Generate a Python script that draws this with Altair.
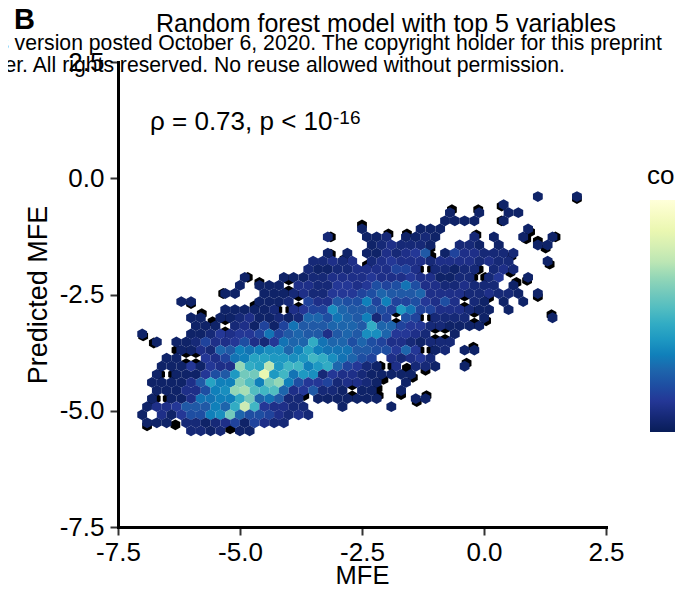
import altair as alt
import pandas as pd

# hexbin rows: row index, first column, counts per column (0 = no hexagon)
row_index = list(range(-22, 8))
row_first = [28, 24, 19, 18, 10, 6, 11, 6, 5, 4, -2, -3, -4, -9, -4, -8, -7, -13, -11, -9, -10, -11, -11, -12, -11, -12, -12, -13, -12, -8]
row_counts = [
    [1, 0, 0, 0, 1],
    [1],
    [1, 0, 0, 1, 0, 0, 1, 1],
    [1, 1, 1, 1, 0, 0, 1],
    [1, 0, 0, 0, 0, 0, 1, 1, 1, 0, 0, 0, 0, 0, 0, 0, 0, 1],
    [2, 0, 0, 0, 1, 1, 2, 0, 1, 1, 2, 1, 0, 0, 0, 2, 0, 1, 0, 0, 1, 0, 0, 1],
    [1, 2, 3, 2, 2, 2, 1, 0, 0, 2, 2, 1, 0, 1, 0, 0, 0, 1, 1],
    [1, 0, 1, 0, 1, 1, 3, 2, 3, 4, 7, 0, 1, 5, 3, 3, 2, 2, 2, 2],
    [2, 2, 3, 2, 3, 0, 2, 3, 4, 3, 3, 3, 2, 3, 3, 3, 3, 2, 3, 2, 2, 0, 0, 0, 1],
    [2, 1, 1, 2, 2, 3, 3, 3, 3, 5, 5, 3, 0, 2, 2, 1, 2, 2, 0, 2, 3, 2],
    [1, 0, 0, 0, 1, 1, 1, 2, 2, 3, 3, 3, 3, 4, 3, 3, 3, 4, 3, 3, 1, 1, 2, 2, 0, 2, 4, 0, 0, 1],
    [1, 0, 1, 1, 1, 0, 3, 3, 2, 2, 4, 4, 3, 4, 6, 5, 6, 9, 6, 3, 3, 2, 2, 3, 2, 2, 2, 0, 1],
    [1, 1, 0, 0, 1, 1, 1, 2, 3, 2, 2, 4, 4, 4, 5, 6, 8, 7, 7, 7, 8, 3, 3, 3, 3, 2, 2, 3, 2, 2, 1, 0, 1],
    [1, 1, 0, 0, 0, 0, 0, 0, 1, 1, 1, 2, 0, 5, 3, 3, 7, 6, 6, 10, 5, 10, 5, 5, 6, 4, 3, 6, 3, 0, 2, 1, 0, 1, 0, 1],
    [1, 1, 1, 1, 1, 2, 0, 3, 4, 5, 5, 11, 8, 7, 7, 7, 6, 5, 12, 9, 5, 5, 3, 3, 3, 2, 1, 1, 0, 1],
    [1, 1, 0, 1, 1, 2, 3, 1, 1, 2, 1, 2, 8, 8, 6, 9, 8, 7, 10, 2, 5, 0, 6, 5, 0, 2, 2, 2, 2, 0, 1, 0, 0, 0, 0, 0, 0, 1],
    [1, 1, 1, 0, 2, 3, 1, 5, 1, 5, 9, 7, 7, 7, 8, 8, 8, 7, 14, 8, 8, 5, 4, 4, 2, 2, 1, 1, 1, 1],
    [1, 0, 0, 0, 0, 1, 1, 2, 4, 3, 4, 4, 5, 9, 5, 7, 8, 7, 7, 3, 7, 8, 7, 11, 11, 8, 4, 4, 3, 2, 0, 0, 1],
    [1, 0, 1, 1, 2, 5, 3, 3, 4, 6, 3, 2, 4, 9, 8, 8, 14, 9, 8, 8, 6, 8, 6, 5, 3, 3, 2, 1, 2, 2, 2],
    [1, 1, 3, 2, 8, 7, 10, 9, 10, 11, 11, 8, 10, 13, 10, 9, 9, 9, 7, 7, 6, 6, 4, 8, 4, 0, 1, 2, 0, 1, 1],
    [1, 1, 0, 0, 4, 3, 5, 9, 10, 13, 13, 12, 12, 11, 12, 15, 14, 11, 9, 8, 6, 5, 0, 3, 2, 3, 4, 2],
    [1, 1, 1, 4, 1, 4, 3, 3, 20, 14, 13, 22, 12, 15, 15, 10, 12, 14, 8, 5, 4, 2, 1, 0, 3, 0, 2, 2, 1, 0, 0, 1],
    [1, 0, 1, 1, 1, 4, 6, 7, 12, 18, 18, 26, 12, 15, 9, 12, 11, 2, 4, 3, 3, 2, 1, 1, 1, 1, 1],
    [1, 1, 1, 1, 3, 7, 13, 10, 10, 19, 16, 10, 18, 20, 10, 6, 4, 4, 5, 2, 3, 3, 2, 1, 0, 0, 1],
    [1, 1, 1, 3, 3, 6, 10, 11, 20, 21, 16, 15, 16, 8, 3, 4, 7, 2, 2, 1, 0, 1, 1, 0, 0, 1],
    [1, 0, 1, 1, 3, 9, 9, 10, 10, 14, 18, 8, 9, 7, 2, 2, 0, 1, 1, 1, 1, 1, 1, 1, 0, 0, 0, 1, 1],
    [1, 3, 3, 4, 7, 7, 7, 10, 8, 14, 23, 15, 4, 3, 3, 2, 2, 0, 0, 0, 1, 0, 0, 0, 0, 1],
    [1, 0, 3, 1, 4, 6, 6, 10, 11, 18, 8, 6, 6, 5, 3, 2, 3, 2],
    [1, 1, 1, 0, 2, 2, 1, 2, 3, 5, 1, 5, 3, 2, 2],
    [2, 2, 1, 2, 0, 1, 1],
]

# black hexagons peeking out at the edge: row, column, shift across, shift down (picture px)
edge_row = [-22, -21, -20, -19, -18, -17, -17, -16, -16, -14, -12, -11, -10, -10, -7, -17, -15, -13,
            -20, -18, -17, -17, -16, -15, -7, -3, -1, -1, -1, 0, 1, 2, 3, 3, 3,
            -4, -5, -7, -3, 6, 6, 7, -9, 3, -10, -11, -9, 3, -14, -15, -17, -12, -7, 2, -13, -14]
edge_col = [32, 24, 22, 24, 27, 26, 29, 28, 29, 29, 27, 25, 28, 23, 29, 21, 25, 25,
            19, 10, 12, 14, 17, 17, 22, 21, 20, 14, 16, 15, 12, 14, 16, 15, 11,
            -11, -13, -7, -10, -12, -9, -4, -8, -12, -4, -1, -2, 4, 8, 6, 6, -2, -6, 12, 22, 10]
edge_sx = [0, -2, -1, -2, 2, 3, 3, 0, -2, 2, -1, 3, 0, 0, -1, 2, -2, -3,
           2, 0, 2, 1, 0, -4, 2, -1, 2, 1, 0, 2, -3, 0, 1, 1, 2,
           -3, 1, 1, 5, 0, -1, 0, 0, 1, -2, 0, 5, -4, 2, 3, 3, 3, 2, -4, -5.5, 5]
edge_sy = [2, 1.5, -3, 0, 3, 2, 0, -4, 3, 3, 3, -3, 3, 4, -3, -2, 3, 3,
           -3, -4, -3, -3, 3, 3, 3, -3, -3, 2, 4, 3, -3, 4, -3, 3, -3,
           1, 2, -4, 0, 3, 2, -2, 2, 3, 0, -3, 4, -3, -2, 1, 0, 0, 4, -2, 0, 4]

# gaps inside the cloud: two black hexagons to either side of a small white sliver
hole_row = [-13, -7, -7, -3, -9, -7, -12, -1, 2, 0, 3, -6, -11, -9, -8, -2, -2, -5, -5]
hole_col = [16, 13, 16, 16, 20, 21, 22, 12, 9, -10, -11, -4, 2, 3, 2, -8, -7, 17, 18]
hole_sx = [6.5, 0, 6.5, 6, 0, 0, 6, 6, 0, 6.5, 6, 0, 0, 0, 6.5, 0, 0, 0, 0]
hole_sy = [0, 5.5, 0, 0, 5.5, 5.5, 0, 0, 5.5, 0, 0, 6, 5.5, 5.5, 0, 5.5, 5.5, 5.5, 5.5]

x_ticks = [-7.5, -5.0, -2.5, 0.0, 2.5]
y_ticks = [-7.5, -5.0, -2.5, 0.0, 2.5]
legend_ticks = [0, 10, 20, 30]
palette = ["#081d58", "#253494", "#225ea8", "#1d91c0", "#41b6c4", "#7fcdbb", "#c7e9b4", "#edf8b1", "#ffffd9"]

FONT = "Liberation Sans"
X0, DX = -4.502, 0.2002          # data position of column 0, column spacing
Y0, DY = -4.217, 0.1738          # data position of row 0, row spacing
PX_X, PX_Y = 48.8, 46.6          # px per data unit


def place(k, c, sx, sy):
    return {"x": X0 + (c + (0.5 if k % 2 else 0)) * DX + sx / PX_X, "y": Y0 - k * DY - sy / PX_Y}


cells = []
for k, first, counts in zip(row_index, row_first, row_counts):
    for i, c in enumerate(counts):
        if c > 0:
            cells.append({**place(k, first + i, 0, 0), "count": c})
cells = pd.DataFrame(cells)

black_points = [place(*t) for t in zip(edge_row, edge_col, edge_sx, edge_sy)]
for k, c, sx, sy in zip(hole_row, hole_col, hole_sx, hole_sy):
    black_points.append(place(k, c, sx, sy))
    black_points.append(place(k, c, -sx, -sy))
blacks = pd.DataFrame(black_points)

W, H = 488, 465
HEX = "M0,-1.105L1,-0.553L1,0.553L0,1.105L-1,0.553L-1,-0.553Z"
xs = alt.Scale(domain=[-7.5, 2.5], nice=False, zero=False)
ys = alt.Scale(domain=[-7.5, 2.5], nice=False, zero=False)
LABEL = "replace(format(datum.value,'.1f'),'\u2212','-')"

x_axis = alt.Axis(values=x_ticks, labelExpr=LABEL, grid=False, title="MFE", domainWidth=3, domainColor="black",
                  tickColor="#333333", tickWidth=2, tickSize=8, labelFont=FONT, labelFontSize=26, labelColor="black",
                  titleFont=FONT, titleFontSize=25.5, titleFontWeight="normal", titleColor="black", labelPadding=4,
                  titleY=56, titleBaseline="alphabetic", labelFlush=False, labelOverlap=False)
y_axis = alt.Axis(values=y_ticks, labelExpr=LABEL, grid=False, title="Predicted MFE", domainWidth=3, domainColor="black",
                  tickColor="#333333", tickWidth=2, tickSize=8, labelFont=FONT, labelFontSize=26, labelColor="black",
                  titleFont=FONT, titleFontSize=27, titleFontWeight="normal", titleColor="black", labelPadding=6,
                  titleX=-72, titleBaseline="alphabetic", labelFlush=False, labelOverlap=False)

black_layer = alt.Chart(blacks).mark_point(filled=True, shape=HEX, size=96, opacity=1, color="black").encode(
    x=alt.X("x:Q", scale=xs, axis=x_axis),
    y=alt.Y("y:Q", scale=ys, axis=y_axis),
)
hex_layer = alt.Chart(cells).mark_point(filled=True, shape=HEX, size=96, opacity=1).encode(
    x=alt.X("x:Q", scale=xs),
    y=alt.Y("y:Q", scale=ys),
    color=alt.Color(
        "count:Q",
        scale=alt.Scale(domain=[0, 30], range=palette),
        legend=alt.Legend(
            orient="none", legendX=532, legendY=138, title=None, gradientLength=232,
            gradientThickness=60, values=legend_ticks, labelFont=FONT, labelFontSize=20, labelColor="black",
        ),
    ),
)


def label(text, x, y, size, **kw):
    return alt.Chart({"values": [{"t": text}]}).mark_text(
        font=FONT, fontSize=size, color="black", baseline="alphabetic", **kw
    ).encode(text="t:N", x=alt.value(x), y=alt.value(y))


labels = [
    label("B", -104, -33, 29, align="left", fontWeight="bold"),
    label("Random forest model with top 5 variables", 268, -30, 25, align="center"),
    label("s version posted October 6, 2020. The copyright holder for this preprint", 544, -12, 21.2, align="right"),
    label("er. All rights reserved. No reuse allowed without permission.", 447, 10, 21.2, align="right"),
    label("\u03c1 = 0.73, p < 10", 32, 68, 26, align="left"),
    label("-16", 215, 62, 19, align="left"),
    label("count", 529, 122, 26, align="left"),
]

ticks = [
    alt.Chart({"values": [{"v": v}]}).mark_rule(color="white", strokeWidth=1.3).encode(
        x=alt.value(532.5), x2=alt.value(542), y=alt.value(y)
    )
    for v, y in zip(legend_ticks, [369, 292, 215, 138.7])
]

chart = alt.layer(black_layer, hex_layer, *labels, *ticks).resolve_scale(color="independent").properties(
    width=W,
    height=H,
    autosize=alt.AutoSizeParams(type="none"),
    padding={"left": 110, "top": 54, "right": 69, "bottom": 59},
).configure_view(stroke=None).configure_axis(domainCap="square")

chart.save("out.html", embed_options={"renderer": "svg", "actions": False})
